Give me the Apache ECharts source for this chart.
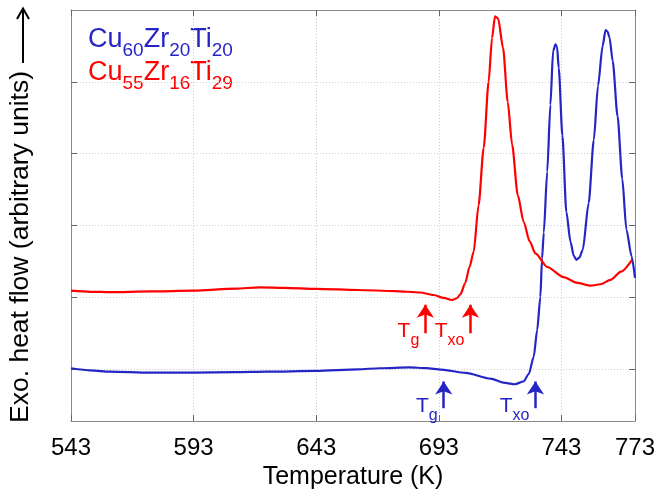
<!DOCTYPE html>
<html>
<head>
<meta charset="utf-8">
<script src="https://cdn.jsdelivr.net/npm/echarts@6/dist/echarts.min.js"></script>
<style>
  html, body { margin: 0; padding: 0; background: #fff; }
  #chart { width: 657px; height: 499px; }
</style>
</head>
<body>
<div id="chart"></div>
<script>
// DSC traces of two Cu-Zr-Ti glasses (heat flow in arbitrary units, offset)
const xTicks = [543, 593, 643, 693, 743, 773];
const yGridValues = [0, 1, 2, 3, 4];

// Cu60Zr20Ti20
const blueT = [543, 551, 559, 575, 593, 610, 623, 643, 660, 669, 681, 688, 694, 704, 714, 720, 724, 727.5,
  729.7, 731.7, 733.1, 734.4, 735.1, 735.8, 737.2, 738.5, 739.6, 740.6, 741.2, 741.9, 743.4, 745, 746.7, 748,
  749.1, 750.3, 751.7, 754.1, 756.2, 757.9, 759.8, 761.0, 761.8, 762.6, 763.9, 765.9, 767.8, 769.5, 771.6, 773];
const blueQ = [0.01, -0.02, -0.038, -0.052, -0.05, -0.045, -0.038, -0.028, -0.005, 0.01, 0.022, 0.012, -0.008,
  -0.055, -0.135, -0.195, -0.213, -0.175, -0.07, 0.17, 0.54, 1.0, 1.54, 1.9, 2.75, 3.68, 4.43, 4.52, 4.49, 4.19,
  3.25, 2.19, 1.77, 1.58, 1.52, 1.55, 1.66, 2.31, 3.19, 3.94, 4.5, 4.72, 4.7, 4.62, 4.29, 3.52, 2.65, 1.94, 1.57, 1.27];

// Cu55Zr16Ti29
const redT = [543, 551, 559, 575, 593, 610, 620, 630, 643, 660, 675, 685.4, 690.9, 695, 698.4, 700.4, 701.8,
  703.8, 705.5, 707.2, 709.2, 711.3, 713.3, 714.7, 715.9, 717.2, 719.2, 721.1, 722.9, 725.2, 727.6, 730, 732.4,
  737.2, 743.9, 749.4, 754.8, 758.9, 763, 767.3, 771.8];
const redQ = [1.09, 1.075, 1.07, 1.08, 1.09, 1.12, 1.135, 1.13, 1.115, 1.1, 1.085, 1.065, 1.03, 0.99, 0.96,
  0.985, 1.04, 1.2, 1.42, 1.63, 2.28, 3.08, 4.0, 4.61, 4.91, 4.88, 4.47, 3.72, 3.12, 2.42, 2.05, 1.78, 1.61,
  1.42, 1.28, 1.2, 1.16, 1.18, 1.24, 1.355, 1.52];

// Onset temperatures marked with arrows
const blueOnsetT = [695.0, 732.4];
const blueOnsetSub = ['g', 'xo'];
const redOnsetT = [687.5, 705.9];
const redOnsetSub = ['g', 'xo'];

const FONT = '"Liberation Sans", Arial, Helvetica, sans-serif';
const BLUE = '#2525c6';
const RED = '#ff0000';
const FRAME = '#8a8a8a';
const GRIDC = '#cdcdcd';

const Y_MIN = -0.725, Y_MAX = 5;
const PLOT_TOP = 10, PLOT_BOTTOM = 421;
const unitPerPx = (Y_MAX - Y_MIN) / (PLOT_BOTTOM - PLOT_TOP);

const pairs = (xs, ys) => xs.map((x, i) => [x, ys[i]]);

function onsetMarks(temps, subs, color, base, tip) {
  const head = 13;
  const tipCentre = tip - (head / 2) * unitPerPx;
  return {
    markLine: {
      silent: true,
      symbol: ['none', 'arrow'],
      symbolSize: head,
      lineStyle: { color: color, width: 2.5, type: 'solid' },
      itemStyle: { color: color },
      label: { show: false },
      emphasis: { disabled: true },
      animation: false,
      data: temps.map(t => [{ coord: [t, base] }, { coord: [t, tipCentre] }])
    },
    markPoint: {
      silent: true,
      animation: false,
      symbol: 'circle',
      symbolSize: 0,
      label: {
        show: true,
        position: 'left',
        distance: 6,
        offset: [0, 1],
        rich: {
          m: { fontSize: 21, fontFamily: FONT, color: color, lineHeight: 28, verticalAlign: 'top' },
          s: { fontSize: 16, fontFamily: FONT, color: color, lineHeight: 16, verticalAlign: 'bottom' }
        }
      },
      data: temps.map((t, i) => ({
        coord: [t, base],
        label: { formatter: '{m|T}{s|' + subs[i] + '}' }
      }))
    }
  };
}

const blueMarks = onsetMarks(blueOnsetT, blueOnsetSub, BLUE, -0.547, -0.084);
const redMarks = onsetMarks(redOnsetT, redOnsetSub, RED, 0.497, 0.985);

function xAxisOf(pos, withLabels) {
  return {
    type: 'value', position: pos, min: 543, max: 773,
    axisLine: { show: true, onZero: false, lineStyle: { color: FRAME, width: 1 } },
    axisTick: { show: true, inside: true, length: 6, customValues: xTicks, lineStyle: { color: '#666', width: 1 } },
    axisLabel: withLabels
      ? { show: true, customValues: xTicks, fontSize: 24, fontFamily: FONT, color: '#000', margin: 15 }
      : { show: false },
    splitLine: withLabels
      ? { show: true, lineStyle: { color: GRIDC, type: [1, 2], width: 1 } }
      : { show: false },
    name: withLabels ? 'Temperature (K)' : '',
    nameLocation: 'middle',
    nameGap: 43,
    nameTextStyle: { fontSize: 25, fontFamily: FONT, color: '#000' }
  };
}

function yAxisOf(pos, withGrid) {
  return {
    type: 'value', position: pos, min: Y_MIN, max: Y_MAX,
    axisLine: { show: true, onZero: false, lineStyle: { color: FRAME, width: 1 } },
    axisTick: { show: true, inside: true, length: 6, customValues: yGridValues, lineStyle: { color: '#666', width: 1 } },
    axisLabel: { show: false },
    splitLine: withGrid
      ? { show: true, lineStyle: { color: GRIDC, type: [1, 2], width: 1 } }
      : { show: false }
  };
}

const legendRich = (color) => ({
  m: { fontSize: 27, fontFamily: FONT, fill: color, lineHeight: 34, verticalAlign: 'top' },
  s: { fontSize: 19, fontFamily: FONT, fill: color, lineHeight: 19, verticalAlign: 'bottom' }
});

const chart = echarts.init(document.getElementById('chart'), null, { renderer: 'canvas' });

chart.setOption({
  animation: false,
  backgroundColor: '#fff',
  grid: { left: 71, right: 22, top: PLOT_TOP, bottom: 499 - PLOT_BOTTOM, containLabel: false, outerBoundsMode: 'none' },
  xAxis: [xAxisOf('bottom', true), xAxisOf('top', false)],
  yAxis: [yAxisOf('left', true), yAxisOf('right', false)],
  series: [
    Object.assign({
      name: 'Cu60Zr20Ti20', type: 'line', data: pairs(blueT, blueQ),
      showSymbol: false, smooth: 0.25, smoothMonotone: 'x',
      lineStyle: { color: BLUE, width: 2.2 }, itemStyle: { color: BLUE }, z: 3
    }, blueMarks),
    Object.assign({
      name: 'Cu55Zr16Ti29', type: 'line', data: pairs(redT, redQ),
      showSymbol: false, smooth: 0.25, smoothMonotone: 'x',
      lineStyle: { color: RED, width: 2.2 }, itemStyle: { color: RED }, z: 3
    }, redMarks)
  ],
  graphic: [
    {
      type: 'text', left: 88, top: 26,
      style: { text: '{m|Cu}{s|60}{m|Zr}{s|20}{m|Ti}{s|20}', rich: legendRich(BLUE) }
    },
    {
      type: 'text', left: 88, top: 59,
      style: { text: '{m|Cu}{s|55}{m|Zr}{s|16}{m|Ti}{s|29}', rich: legendRich(RED) }
    },
    {
      type: 'text', x: 21, y: 247, rotation: Math.PI / 2,
      style: {
        text: 'Exo. heat flow (arbitrary units)',
        fontSize: 26.5, fontFamily: FONT, fill: '#000',
        align: 'center', verticalAlign: 'middle'
      }
    },
    {
      type: 'group',
      children: [
        { type: 'line', shape: { x1: 23, y1: 63, x2: 23, y2: 9 }, style: { stroke: '#000', lineWidth: 2 } },
        { type: 'polyline', shape: { points: [[17, 19], [23, 8.5], [29, 19]] }, style: { stroke: '#000', lineWidth: 2, fill: null } }
      ]
    }
  ]
});
</script>
</body>
</html>
